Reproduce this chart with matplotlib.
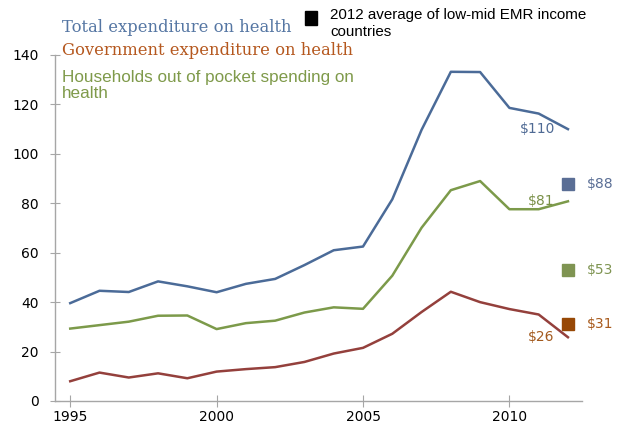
import matplotlib.pyplot as plt
import numpy as np

years = list(range(1995, 2013))
total = [39.6, 44.6, 44.1, 48.4, 46.4, 44.0, 47.4, 49.4, 55.0, 61.0, 62.5,
         81.6, 109.7, 133.2, 133.1, 118.6, 116.3, 110.0]
households = [29.3, 30.7, 32.1, 34.5, 34.6, 29.1, 31.5, 32.5, 35.8, 37.9, 37.3,
              50.7, 70.1, 85.3, 89.0, 77.6, 77.6, 80.8]
government = [8.0, 11.5, 9.5, 11.2, 9.2, 11.9, 12.9, 13.7, 15.8, 19.2, 21.5,
              27.2, 36.0, 44.2, 40.0, 37.2, 35.0, 25.8]

# 2012 averages of low-mid EMR income countries
avg_labels = ["$88", "$53", "$31"]
avg_values = [88, 53, 31]

end_labels = ["$110", "$81", "$26"]
end_values = [110, 81, 26]

c_total = "#4b6b98"
c_house = "#7c9a4a"
c_gov = "#94403c"
sq_cols = ["#5a6e95", "#7f9452", "#974806"]
lbl_cols = ["#5a6e95", "#7f9452", "#a85a1c"]
end_cols = ["#4f6a94", "#7a9048", "#a35a1e"]

fig = plt.figure(figsize=(6.2, 4.32), dpi=100)
ax = fig.add_axes([55/620, 1-401/432, (582-55)/620, (401-55)/432])

ax.plot(years, total, color=c_total, lw=1.8)
ax.plot(years, households, color=c_house, lw=1.8)
ax.plot(years, government, color=c_gov, lw=1.8)

for v, c in zip(avg_values, sq_cols):
    ax.plot([2012], [v], marker="s", ms=9.2, color=c, ls="none", clip_on=False)
for v, t, c in zip(avg_values, avg_labels, lbl_cols):
    ax.text(2012.64, v, t, color=c, fontsize=10, va="center", ha="left", clip_on=False)
for v, t, c in zip(end_values, end_labels, end_cols):
    ax.text(2011.55, v, t, color=c, fontsize=10, va="center", ha="right")

ax.set_xlim(1994.48, 2012.48)
ax.set_ylim(0, 140)
ax.set_xticks([1995, 2000, 2005, 2010])
ax.set_yticks(range(0, 141, 20))
for s in ["top", "right"]:
    ax.spines[s].set_visible(False)
for s in ["left", "bottom"]:
    ax.spines[s].set_color("#a6a6a6")
    ax.spines[s].set_linewidth(1.0)
ax.tick_params(axis="both", direction="inout", color="#a6a6a6", labelsize=10,
               labelcolor="black")
ax.tick_params(axis="x", length=8.6, pad=2)
ax.tick_params(axis="y", length=7.2, pad=8)

def ftext(px, py, s, **kw):
    fig.text(px/620, 1-py/432, s, va="center", ha="left", **kw)

ftext(62, 27.3, "Total expenditure on health", color="#5576a3",
      family="DejaVu Serif", fontsize=11.8)
ftext(62, 50.7, "Government expenditure on health", color="#b5581f",
      family="DejaVu Serif", fontsize=11.8)
ftext(62, 77.7, "Households out of pocket spending on", color="#7f9a4a",
      family="Liberation Sans", fontsize=12.3)
ftext(62, 94, "health", color="#7f9a4a", family="Liberation Sans", fontsize=12.3)

fig.patches.append(plt.Rectangle((305/620, 1-25/432), 12/620, 14/432,
                                 transform=fig.transFigure, color="black"))
ftext(330, 15, "2012 average of low-mid EMR income", color="black",
      family="Liberation Sans", fontsize=10.9)
ftext(330, 32.3, "countries", color="black", family="Liberation Sans", fontsize=10.9)

fig.savefig("out.png", dpi=100)
